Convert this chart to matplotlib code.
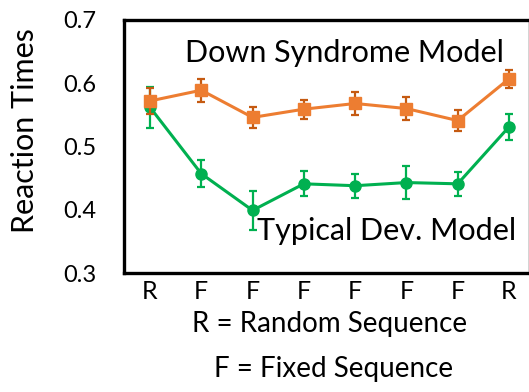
import matplotlib.pyplot as plt

# sequence blocks (R = random, F = fixed)
blocks = ['R', 'F', 'F', 'F', 'F', 'F', 'F', 'R']
down_rt = [0.572, 0.589, 0.546, 0.559, 0.568, 0.560, 0.541, 0.607]
down_err = [0.021, 0.018, 0.017, 0.015, 0.018, 0.018, 0.017, 0.014]
typical_rt = [0.562, 0.457, 0.399, 0.441, 0.438, 0.443, 0.441, 0.531]
typical_err = [0.032, 0.021, 0.031, 0.020, 0.019, 0.026, 0.019, 0.020]

orange = '#ED7D31'
orange_dark = '#C55A11'
green = '#00B050'

plt.rcParams['font.family'] = ['Lato', 'DejaVu Sans']

fig = plt.figure(figsize=(5.29, 3.92), dpi=100)
ax = fig.add_axes([124 / 529, 1 - 273 / 392, 406 / 529, 253 / 392])

x = list(range(len(blocks)))
ax.errorbar(x, typical_rt, yerr=typical_err, color=green, ecolor=green,
            lw=2.2, marker='o', ms=8, elinewidth=1.6, capsize=3, capthick=1.6, zorder=3)
ax.errorbar(x, down_rt, yerr=down_err, color=orange, ecolor=orange_dark,
            lw=2.2, marker='s', ms=8, elinewidth=1.6, capsize=3, capthick=1.6, zorder=4)

ax.set_xlim(-0.507, 7.41)
ax.set_ylim(0.3, 0.7)

ax.set_xticks(x)
ax.set_xticklabels(blocks, fontsize=18)
ax.set_yticks([0.3, 0.4, 0.5, 0.6, 0.7])
ax.set_yticklabels(['0.3', '0.4', '0.5', '0.6', '0.7'], fontsize=17)
ax.tick_params(axis='x', length=0, pad=5)
ax.tick_params(axis='y', length=0, pad=20)

for s in ax.spines.values():
    s.set_linewidth(2.4)

# y label placed by hand, as in the original slide
fig.text(25 / 529, 1 - 131 / 392, 'Reaction Times', fontsize=22, rotation=90,
         ha='center', va='center')
fig.text(344 / 529, 1 - 62 / 392, 'Down Syndrome Model', fontsize=22, ha='center', va='baseline')
fig.text(386.5 / 529, 1 - 240 / 392, 'Typical Dev. Model', fontsize=22, ha='center', va='baseline')
fig.text(329.5 / 529, 1 - 332 / 392, 'R = Random Sequence', fontsize=20, ha='center', va='baseline')
fig.text(333.5 / 529, 1 - 377 / 392, 'F = Fixed Sequence', fontsize=20, ha='center', va='baseline')

fig.savefig('out.png', dpi=100)
